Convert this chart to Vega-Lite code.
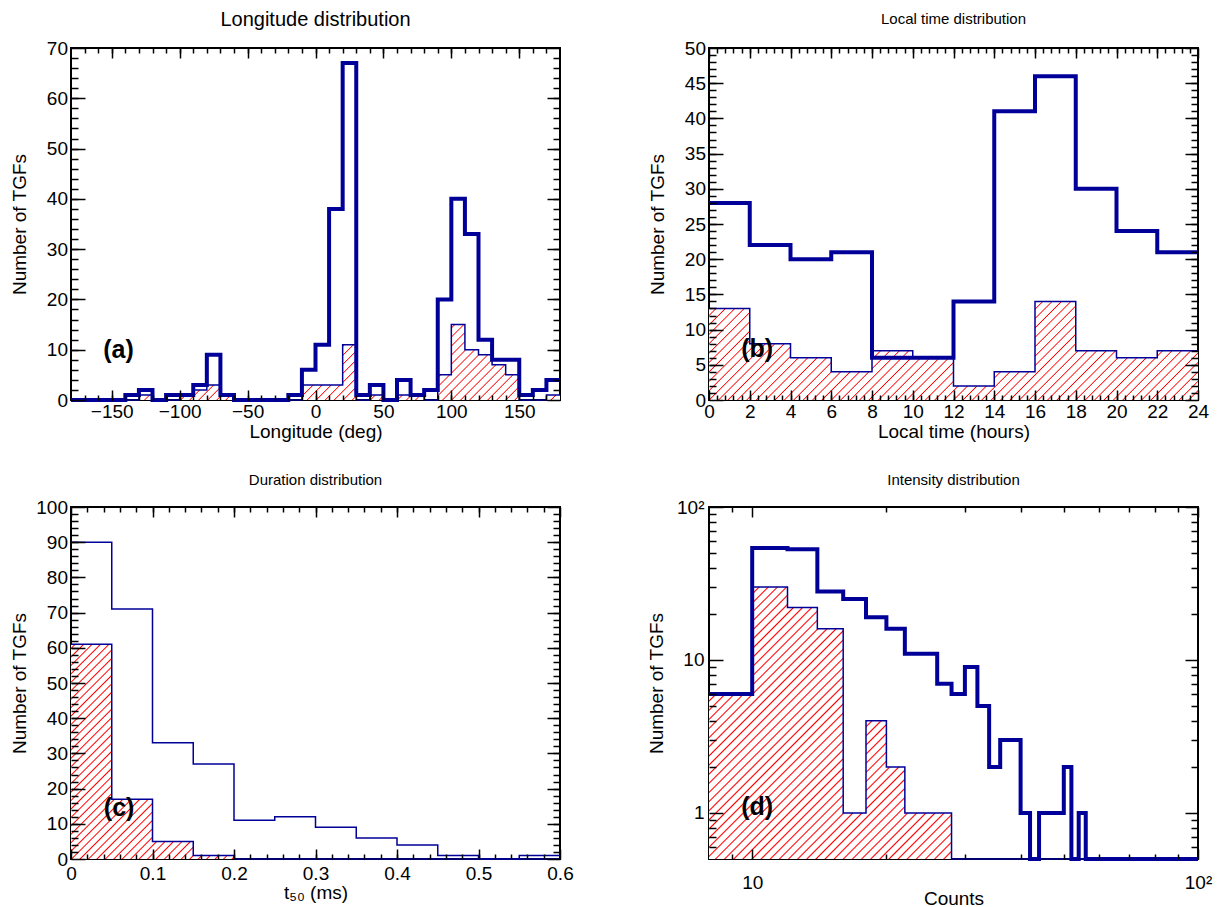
{
"$schema":"https://vega.github.io/schema/vega-lite/v6.json",
"background":"white",
"padding":{"left":9,"top":9,"right":0,"bottom":0},
"autosize":{"type":"pad"},
"columns":2,
"spacing":{"row":107,"column":149},
"bounds":"flush",
"config":{
 "view":{"stroke":"#000","strokeWidth":2},
 "axis":{"labelFont":"Liberation Sans","labelFontSize":19,"labelColor":"#000","titleFont":"Liberation Sans","titleFontSize":19,"titleFontWeight":"normal","titleColor":"#000","tickColor":"#000","tickWidth":1.5,"grid":false,"labelOverlap":false,"labelFlush":false,"labelBound":false},
 "title":{"font":"Liberation Sans","fontWeight":"normal","color":"#000","anchor":"middle","baseline":"alphabetic"},
 "line":{"strokeJoin":"miter","strokeCap":"butt"}
},
"concat":[
{"width":489,"height":352,
 "title":{"text":"Longitude distribution","fontSize":20,"offset":9},
 "data":{"values":[
{"lo":-180,"hi":-170,"all":0,"sub":0},{"lo":-170,"hi":-160,"all":0,"sub":0},{"lo":-160,"hi":-150,"all":0,"sub":0},{"lo":-150,"hi":-140,"all":0,"sub":0},{"lo":-140,"hi":-130,"all":1,"sub":0},{"lo":-130,"hi":-120,"all":2,"sub":1},{"lo":-120,"hi":-110,"all":0,"sub":0},{"lo":-110,"hi":-100,"all":1,"sub":0},{"lo":-100,"hi":-90,"all":1,"sub":1},{"lo":-90,"hi":-80,"all":3,"sub":2},{"lo":-80,"hi":-70,"all":9,"sub":3},{"lo":-70,"hi":-60,"all":1,"sub":1},{"lo":-60,"hi":-50,"all":0,"sub":0},{"lo":-50,"hi":-40,"all":0,"sub":0},{"lo":-40,"hi":-30,"all":0,"sub":0},{"lo":-30,"hi":-20,"all":0,"sub":0},{"lo":-20,"hi":-10,"all":1,"sub":0},{"lo":-10,"hi":0,"all":6,"sub":3},{"lo":0,"hi":10,"all":11,"sub":3},{"lo":10,"hi":20,"all":38,"sub":3},{"lo":20,"hi":30,"all":67,"sub":11},{"lo":30,"hi":40,"all":1,"sub":0},{"lo":40,"hi":50,"all":3,"sub":1},{"lo":50,"hi":60,"all":0,"sub":0},{"lo":60,"hi":70,"all":4,"sub":1},{"lo":70,"hi":80,"all":1,"sub":1},{"lo":80,"hi":90,"all":2,"sub":0},{"lo":90,"hi":100,"all":20,"sub":5},{"lo":100,"hi":110,"all":40,"sub":15},{"lo":110,"hi":120,"all":33,"sub":10},{"lo":120,"hi":130,"all":12,"sub":9},{"lo":130,"hi":140,"all":8,"sub":7},{"lo":140,"hi":150,"all":8,"sub":5},{"lo":150,"hi":160,"all":1,"sub":0},{"lo":160,"hi":170,"all":2,"sub":0},{"lo":170,"hi":180,"all":4,"sub":1}]},
 "layer":[
  {"transform":[{"fold":["lo","hi"],"as":["edge","x"]}],
   "mark":{"type":"area","stroke":null,"opacity":1,"fill":{"gradient":"linear","x1":0,"y1":0,"x2":1.1274,"y2":0.1739,"stops":[
{"offset":0.006,"color":"#fff"},{"offset":0.008,"color":"red"},{"offset":0.010,"color":"#fff"},
{"offset":0.022,"color":"#fff"},{"offset":0.024,"color":"red"},{"offset":0.026,"color":"#fff"},
{"offset":0.038,"color":"#fff"},{"offset":0.040,"color":"red"},{"offset":0.042,"color":"#fff"},
{"offset":0.054,"color":"#fff"},{"offset":0.056,"color":"red"},{"offset":0.058,"color":"#fff"},
{"offset":0.070,"color":"#fff"},{"offset":0.072,"color":"red"},{"offset":0.074,"color":"#fff"},
{"offset":0.086,"color":"#fff"},{"offset":0.088,"color":"red"},{"offset":0.090,"color":"#fff"},
{"offset":0.102,"color":"#fff"},{"offset":0.104,"color":"red"},{"offset":0.106,"color":"#fff"},
{"offset":0.118,"color":"#fff"},{"offset":0.120,"color":"red"},{"offset":0.122,"color":"#fff"},
{"offset":0.134,"color":"#fff"},{"offset":0.136,"color":"red"},{"offset":0.138,"color":"#fff"},
{"offset":0.150,"color":"#fff"},{"offset":0.152,"color":"red"},{"offset":0.154,"color":"#fff"},
{"offset":0.166,"color":"#fff"},{"offset":0.168,"color":"red"},{"offset":0.170,"color":"#fff"},
{"offset":0.182,"color":"#fff"},{"offset":0.184,"color":"red"},{"offset":0.186,"color":"#fff"},
{"offset":0.198,"color":"#fff"},{"offset":0.200,"color":"red"},{"offset":0.202,"color":"#fff"},
{"offset":0.214,"color":"#fff"},{"offset":0.216,"color":"red"},{"offset":0.218,"color":"#fff"},
{"offset":0.230,"color":"#fff"},{"offset":0.232,"color":"red"},{"offset":0.234,"color":"#fff"},
{"offset":0.246,"color":"#fff"},{"offset":0.248,"color":"red"},{"offset":0.250,"color":"#fff"},
{"offset":0.262,"color":"#fff"},{"offset":0.264,"color":"red"},{"offset":0.266,"color":"#fff"},
{"offset":0.278,"color":"#fff"},{"offset":0.280,"color":"red"},{"offset":0.282,"color":"#fff"},
{"offset":0.294,"color":"#fff"},{"offset":0.296,"color":"red"},{"offset":0.298,"color":"#fff"},
{"offset":0.310,"color":"#fff"},{"offset":0.312,"color":"red"},{"offset":0.314,"color":"#fff"},
{"offset":0.326,"color":"#fff"},{"offset":0.328,"color":"red"},{"offset":0.330,"color":"#fff"},
{"offset":0.342,"color":"#fff"},{"offset":0.344,"color":"red"},{"offset":0.346,"color":"#fff"},
{"offset":0.358,"color":"#fff"},{"offset":0.360,"color":"red"},{"offset":0.362,"color":"#fff"},
{"offset":0.374,"color":"#fff"},{"offset":0.376,"color":"red"},{"offset":0.378,"color":"#fff"},
{"offset":0.390,"color":"#fff"},{"offset":0.392,"color":"red"},{"offset":0.394,"color":"#fff"},
{"offset":0.406,"color":"#fff"},{"offset":0.408,"color":"red"},{"offset":0.410,"color":"#fff"},
{"offset":0.422,"color":"#fff"},{"offset":0.424,"color":"red"},{"offset":0.426,"color":"#fff"},
{"offset":0.438,"color":"#fff"},{"offset":0.440,"color":"red"},{"offset":0.442,"color":"#fff"},
{"offset":0.454,"color":"#fff"},{"offset":0.456,"color":"red"},{"offset":0.458,"color":"#fff"},
{"offset":0.470,"color":"#fff"},{"offset":0.472,"color":"red"},{"offset":0.474,"color":"#fff"},
{"offset":0.486,"color":"#fff"},{"offset":0.488,"color":"red"},{"offset":0.490,"color":"#fff"},
{"offset":0.502,"color":"#fff"},{"offset":0.504,"color":"red"},{"offset":0.506,"color":"#fff"},
{"offset":0.518,"color":"#fff"},{"offset":0.520,"color":"red"},{"offset":0.522,"color":"#fff"},
{"offset":0.534,"color":"#fff"},{"offset":0.536,"color":"red"},{"offset":0.538,"color":"#fff"},
{"offset":0.550,"color":"#fff"},{"offset":0.552,"color":"red"},{"offset":0.554,"color":"#fff"},
{"offset":0.566,"color":"#fff"},{"offset":0.568,"color":"red"},{"offset":0.570,"color":"#fff"},
{"offset":0.582,"color":"#fff"},{"offset":0.584,"color":"red"},{"offset":0.586,"color":"#fff"},
{"offset":0.598,"color":"#fff"},{"offset":0.600,"color":"red"},{"offset":0.602,"color":"#fff"},
{"offset":0.614,"color":"#fff"},{"offset":0.616,"color":"red"},{"offset":0.618,"color":"#fff"},
{"offset":0.630,"color":"#fff"},{"offset":0.632,"color":"red"},{"offset":0.634,"color":"#fff"},
{"offset":0.646,"color":"#fff"},{"offset":0.648,"color":"red"},{"offset":0.650,"color":"#fff"},
{"offset":0.662,"color":"#fff"},{"offset":0.664,"color":"red"},{"offset":0.666,"color":"#fff"},
{"offset":0.678,"color":"#fff"},{"offset":0.680,"color":"red"},{"offset":0.682,"color":"#fff"},
{"offset":0.694,"color":"#fff"},{"offset":0.696,"color":"red"},{"offset":0.698,"color":"#fff"},
{"offset":0.710,"color":"#fff"},{"offset":0.712,"color":"red"},{"offset":0.714,"color":"#fff"},
{"offset":0.726,"color":"#fff"},{"offset":0.728,"color":"red"},{"offset":0.730,"color":"#fff"},
{"offset":0.742,"color":"#fff"},{"offset":0.744,"color":"red"},{"offset":0.746,"color":"#fff"},
{"offset":0.758,"color":"#fff"},{"offset":0.760,"color":"red"},{"offset":0.762,"color":"#fff"},
{"offset":0.774,"color":"#fff"},{"offset":0.776,"color":"red"},{"offset":0.778,"color":"#fff"},
{"offset":0.790,"color":"#fff"},{"offset":0.792,"color":"red"},{"offset":0.794,"color":"#fff"},
{"offset":0.806,"color":"#fff"},{"offset":0.808,"color":"red"},{"offset":0.810,"color":"#fff"},
{"offset":0.822,"color":"#fff"},{"offset":0.824,"color":"red"},{"offset":0.826,"color":"#fff"},
{"offset":0.838,"color":"#fff"},{"offset":0.840,"color":"red"},{"offset":0.842,"color":"#fff"},
{"offset":0.854,"color":"#fff"},{"offset":0.856,"color":"red"},{"offset":0.858,"color":"#fff"},
{"offset":0.870,"color":"#fff"},{"offset":0.872,"color":"red"},{"offset":0.874,"color":"#fff"},
{"offset":0.886,"color":"#fff"},{"offset":0.888,"color":"red"},{"offset":0.890,"color":"#fff"},
{"offset":0.902,"color":"#fff"},{"offset":0.904,"color":"red"},{"offset":0.906,"color":"#fff"},
{"offset":0.918,"color":"#fff"},{"offset":0.920,"color":"red"},{"offset":0.922,"color":"#fff"},
{"offset":0.934,"color":"#fff"},{"offset":0.936,"color":"red"},{"offset":0.938,"color":"#fff"},
{"offset":0.950,"color":"#fff"},{"offset":0.952,"color":"red"},{"offset":0.954,"color":"#fff"},
{"offset":0.966,"color":"#fff"},{"offset":0.968,"color":"red"},{"offset":0.970,"color":"#fff"},
{"offset":0.982,"color":"#fff"},{"offset":0.984,"color":"red"},{"offset":0.986,"color":"#fff"}]}},
   "encoding":{
    "x":{"field":"x","type":"quantitative","scale":{"domain":[-180,180],"nice":false,"zero":false},"axis":{"orient":"bottom","zindex":1,"values":[-150,-100,-50,0,50,100,150],"format":"d","ticks":true,"tickSize":0,"tickOpacity":0,"domain":false,"labelPadding":2.5,"title":"Longitude (deg)","titlePadding":1}},
    "y":{"field":"sub","type":"quantitative","stack":null,"scale":{"domain":[0,70],"nice":false},"axis":{"orient":"left","zindex":1,"values":[0,10,20,30,40,50,60,70],"ticks":true,"tickSize":0,"tickOpacity":0,"domain":false,"labelPadding":3.5,"title":"Number of TGFs","titlePadding":17}},
    "y2":{"datum":0},
    "order":[{"field":"x","type":"quantitative"},{"field":"edge","type":"ordinal"}]}},
  {"transform":[{"fold":["lo","hi"],"as":["edge","x"]}],
   "mark":{"type":"line","color":"#000099","strokeWidth":1.5},
   "encoding":{
    "x":{"field":"x","type":"quantitative","scale":{"domain":[-180,180],"nice":false,"zero":false},"axis":{"orient":"bottom","zindex":1,"values":[-150,-100,-50,0,50,100,150],"offset":-10,"tickSize":10,"labels":false,"domain":false,"title":null}},
    "y":{"field":"sub","type":"quantitative","scale":{"domain":[0,70],"nice":false},"axis":{"orient":"left","zindex":1,"values":[0,10,20,30,40,50,60,70],"offset":-14,"tickSize":14,"labels":false,"domain":false,"title":null}},
    "order":[{"field":"x","type":"quantitative"},{"field":"edge","type":"ordinal"}]}},
  {"transform":[{"fold":["lo","hi"],"as":["edge","x"]}],
   "mark":{"type":"line","color":"#000099","strokeWidth":4},
   "encoding":{
    "x":{"field":"x","type":"quantitative","scale":{"domain":[-180,180],"nice":false,"zero":false},"axis":{"orient":"top","zindex":1,"values":[-150,-100,-50,0,50,100,150],"offset":-10,"tickSize":10,"labels":false,"domain":false,"title":null}},
    "y":{"field":"all","type":"quantitative","scale":{"domain":[0,70],"nice":false},"axis":{"orient":"right","zindex":1,"values":[0,10,20,30,40,50,60,70],"offset":-13,"tickSize":13,"labels":false,"domain":false,"title":null}},
    "order":[{"field":"x","type":"quantitative"},{"field":"edge","type":"ordinal"}]}},
  {"mark":{"type":"line","strokeOpacity":0},
   "encoding":{
    "x":{"field":"lo","type":"quantitative","scale":{"domain":[-180,180],"nice":false,"zero":false},"axis":{"orient":"bottom","zindex":1,"values":[-170,-160,-150,-140,-130,-120,-110,-100,-90,-80,-70,-60,-50,-40,-30,-20,-10,0,10,20,30,40,50,60,70,80,90,100,110,120,130,140,150,160,170],"offset":-5,"tickSize":5,"labels":false,"domain":false,"title":null}},
    "y":{"field":"all","type":"quantitative","scale":{"domain":[0,70],"nice":false},"axis":{"orient":"left","zindex":1,"values":[2,4,6,8,10,12,14,16,18,20,22,24,26,28,30,32,34,36,38,40,42,44,46,48,50,52,54,56,58,60,62,64,66,68],"offset":-7,"tickSize":7,"labels":false,"domain":false,"title":null}}}},
  {"data":{"values":[{}]},
   "mark":{"type":"text","text":"(a)","font":"Liberation Sans","fontSize":25,"fontWeight":"bold","color":"#000"},
   "encoding":{
    "x":{"datum":-145,"type":"quantitative","scale":{"domain":[-180,180],"nice":false,"zero":false},"axis":{"orient":"top","zindex":1,"values":[-170,-160,-150,-140,-130,-120,-110,-100,-90,-80,-70,-60,-50,-40,-30,-20,-10,0,10,20,30,40,50,60,70,80,90,100,110,120,130,140,150,160,170],"offset":-5,"tickSize":5,"labels":false,"domain":false,"title":null}},
    "y":{"datum":10,"type":"quantitative","scale":{"domain":[0,70],"nice":false},"axis":{"orient":"right","zindex":1,"values":[2,4,6,8,10,12,14,16,18,20,22,24,26,28,30,32,34,36,38,40,42,44,46,48,50,52,54,56,58,60,62,64,66,68],"offset":-7,"tickSize":7,"labels":false,"domain":false,"title":null}}}}
 ],
 "resolve":{"axis":{"x":"independent","y":"independent"}}
},
{"width":489,"height":352,
 "title":{"text":"Local time distribution","fontSize":15,"offset":12},
 "data":{"values":[
{"lo":0,"hi":2,"all":28,"sub":13},{"lo":2,"hi":4,"all":22,"sub":8},{"lo":4,"hi":6,"all":20,"sub":6},{"lo":6,"hi":8,"all":21,"sub":4},{"lo":8,"hi":10,"all":6,"sub":7},{"lo":10,"hi":12,"all":6,"sub":6},{"lo":12,"hi":14,"all":14,"sub":2},{"lo":14,"hi":16,"all":41,"sub":4},{"lo":16,"hi":18,"all":46,"sub":14},{"lo":18,"hi":20,"all":30,"sub":7},{"lo":20,"hi":22,"all":24,"sub":6},{"lo":22,"hi":24,"all":21,"sub":7}]},
 "layer":[
  {"transform":[{"fold":["lo","hi"],"as":["edge","x"]}],
   "mark":{"type":"area","stroke":null,"opacity":1,"fill":{"gradient":"linear","x1":0,"y1":0,"x2":1.1547,"y2":0.2327,"stops":[
{"offset":0.006,"color":"#fff"},{"offset":0.008,"color":"red"},{"offset":0.010,"color":"#fff"},
{"offset":0.022,"color":"#fff"},{"offset":0.024,"color":"red"},{"offset":0.026,"color":"#fff"},
{"offset":0.038,"color":"#fff"},{"offset":0.040,"color":"red"},{"offset":0.042,"color":"#fff"},
{"offset":0.054,"color":"#fff"},{"offset":0.056,"color":"red"},{"offset":0.058,"color":"#fff"},
{"offset":0.070,"color":"#fff"},{"offset":0.072,"color":"red"},{"offset":0.074,"color":"#fff"},
{"offset":0.086,"color":"#fff"},{"offset":0.088,"color":"red"},{"offset":0.090,"color":"#fff"},
{"offset":0.102,"color":"#fff"},{"offset":0.104,"color":"red"},{"offset":0.106,"color":"#fff"},
{"offset":0.118,"color":"#fff"},{"offset":0.120,"color":"red"},{"offset":0.122,"color":"#fff"},
{"offset":0.134,"color":"#fff"},{"offset":0.136,"color":"red"},{"offset":0.138,"color":"#fff"},
{"offset":0.150,"color":"#fff"},{"offset":0.152,"color":"red"},{"offset":0.154,"color":"#fff"},
{"offset":0.166,"color":"#fff"},{"offset":0.168,"color":"red"},{"offset":0.170,"color":"#fff"},
{"offset":0.182,"color":"#fff"},{"offset":0.184,"color":"red"},{"offset":0.186,"color":"#fff"},
{"offset":0.198,"color":"#fff"},{"offset":0.200,"color":"red"},{"offset":0.202,"color":"#fff"},
{"offset":0.214,"color":"#fff"},{"offset":0.216,"color":"red"},{"offset":0.218,"color":"#fff"},
{"offset":0.230,"color":"#fff"},{"offset":0.232,"color":"red"},{"offset":0.234,"color":"#fff"},
{"offset":0.246,"color":"#fff"},{"offset":0.248,"color":"red"},{"offset":0.250,"color":"#fff"},
{"offset":0.262,"color":"#fff"},{"offset":0.264,"color":"red"},{"offset":0.266,"color":"#fff"},
{"offset":0.278,"color":"#fff"},{"offset":0.280,"color":"red"},{"offset":0.282,"color":"#fff"},
{"offset":0.294,"color":"#fff"},{"offset":0.296,"color":"red"},{"offset":0.298,"color":"#fff"},
{"offset":0.310,"color":"#fff"},{"offset":0.312,"color":"red"},{"offset":0.314,"color":"#fff"},
{"offset":0.326,"color":"#fff"},{"offset":0.328,"color":"red"},{"offset":0.330,"color":"#fff"},
{"offset":0.342,"color":"#fff"},{"offset":0.344,"color":"red"},{"offset":0.346,"color":"#fff"},
{"offset":0.358,"color":"#fff"},{"offset":0.360,"color":"red"},{"offset":0.362,"color":"#fff"},
{"offset":0.374,"color":"#fff"},{"offset":0.376,"color":"red"},{"offset":0.378,"color":"#fff"},
{"offset":0.390,"color":"#fff"},{"offset":0.392,"color":"red"},{"offset":0.394,"color":"#fff"},
{"offset":0.406,"color":"#fff"},{"offset":0.408,"color":"red"},{"offset":0.410,"color":"#fff"},
{"offset":0.422,"color":"#fff"},{"offset":0.424,"color":"red"},{"offset":0.426,"color":"#fff"},
{"offset":0.438,"color":"#fff"},{"offset":0.440,"color":"red"},{"offset":0.442,"color":"#fff"},
{"offset":0.454,"color":"#fff"},{"offset":0.456,"color":"red"},{"offset":0.458,"color":"#fff"},
{"offset":0.470,"color":"#fff"},{"offset":0.472,"color":"red"},{"offset":0.474,"color":"#fff"},
{"offset":0.486,"color":"#fff"},{"offset":0.488,"color":"red"},{"offset":0.490,"color":"#fff"},
{"offset":0.502,"color":"#fff"},{"offset":0.504,"color":"red"},{"offset":0.506,"color":"#fff"},
{"offset":0.518,"color":"#fff"},{"offset":0.520,"color":"red"},{"offset":0.522,"color":"#fff"},
{"offset":0.534,"color":"#fff"},{"offset":0.536,"color":"red"},{"offset":0.538,"color":"#fff"},
{"offset":0.550,"color":"#fff"},{"offset":0.552,"color":"red"},{"offset":0.554,"color":"#fff"},
{"offset":0.566,"color":"#fff"},{"offset":0.568,"color":"red"},{"offset":0.570,"color":"#fff"},
{"offset":0.582,"color":"#fff"},{"offset":0.584,"color":"red"},{"offset":0.586,"color":"#fff"},
{"offset":0.598,"color":"#fff"},{"offset":0.600,"color":"red"},{"offset":0.602,"color":"#fff"},
{"offset":0.614,"color":"#fff"},{"offset":0.616,"color":"red"},{"offset":0.618,"color":"#fff"},
{"offset":0.630,"color":"#fff"},{"offset":0.632,"color":"red"},{"offset":0.634,"color":"#fff"},
{"offset":0.646,"color":"#fff"},{"offset":0.648,"color":"red"},{"offset":0.650,"color":"#fff"},
{"offset":0.662,"color":"#fff"},{"offset":0.664,"color":"red"},{"offset":0.666,"color":"#fff"},
{"offset":0.678,"color":"#fff"},{"offset":0.680,"color":"red"},{"offset":0.682,"color":"#fff"},
{"offset":0.694,"color":"#fff"},{"offset":0.696,"color":"red"},{"offset":0.698,"color":"#fff"},
{"offset":0.710,"color":"#fff"},{"offset":0.712,"color":"red"},{"offset":0.714,"color":"#fff"},
{"offset":0.726,"color":"#fff"},{"offset":0.728,"color":"red"},{"offset":0.730,"color":"#fff"},
{"offset":0.742,"color":"#fff"},{"offset":0.744,"color":"red"},{"offset":0.746,"color":"#fff"},
{"offset":0.758,"color":"#fff"},{"offset":0.760,"color":"red"},{"offset":0.762,"color":"#fff"},
{"offset":0.774,"color":"#fff"},{"offset":0.776,"color":"red"},{"offset":0.778,"color":"#fff"},
{"offset":0.790,"color":"#fff"},{"offset":0.792,"color":"red"},{"offset":0.794,"color":"#fff"},
{"offset":0.806,"color":"#fff"},{"offset":0.808,"color":"red"},{"offset":0.810,"color":"#fff"},
{"offset":0.822,"color":"#fff"},{"offset":0.824,"color":"red"},{"offset":0.826,"color":"#fff"},
{"offset":0.838,"color":"#fff"},{"offset":0.840,"color":"red"},{"offset":0.842,"color":"#fff"},
{"offset":0.854,"color":"#fff"},{"offset":0.856,"color":"red"},{"offset":0.858,"color":"#fff"},
{"offset":0.870,"color":"#fff"},{"offset":0.872,"color":"red"},{"offset":0.874,"color":"#fff"},
{"offset":0.886,"color":"#fff"},{"offset":0.888,"color":"red"},{"offset":0.890,"color":"#fff"},
{"offset":0.902,"color":"#fff"},{"offset":0.904,"color":"red"},{"offset":0.906,"color":"#fff"},
{"offset":0.918,"color":"#fff"},{"offset":0.920,"color":"red"},{"offset":0.922,"color":"#fff"},
{"offset":0.934,"color":"#fff"},{"offset":0.936,"color":"red"},{"offset":0.938,"color":"#fff"},
{"offset":0.950,"color":"#fff"},{"offset":0.952,"color":"red"},{"offset":0.954,"color":"#fff"},
{"offset":0.966,"color":"#fff"},{"offset":0.968,"color":"red"},{"offset":0.970,"color":"#fff"},
{"offset":0.982,"color":"#fff"},{"offset":0.984,"color":"red"},{"offset":0.986,"color":"#fff"}]}},
   "encoding":{
    "x":{"field":"x","type":"quantitative","scale":{"domain":[0,24],"nice":false,"zero":false},"axis":{"orient":"bottom","zindex":1,"values":[0,2,4,6,8,10,12,14,16,18,20,22,24],"ticks":true,"tickSize":0,"tickOpacity":0,"domain":false,"labelPadding":2.5,"title":"Local time (hours)","titlePadding":1}},
    "y":{"field":"sub","type":"quantitative","stack":null,"scale":{"domain":[0,50],"nice":false},"axis":{"orient":"left","zindex":1,"values":[0,5,10,15,20,25,30,35,40,45,50],"ticks":true,"tickSize":0,"tickOpacity":0,"domain":false,"labelPadding":3.5,"title":"Number of TGFs","titlePadding":17}},
    "y2":{"datum":0},
    "order":[{"field":"x","type":"quantitative"},{"field":"edge","type":"ordinal"}]}},
  {"transform":[{"fold":["lo","hi"],"as":["edge","x"]}],
   "mark":{"type":"line","color":"#000099","strokeWidth":1.5},
   "encoding":{
    "x":{"field":"x","type":"quantitative","scale":{"domain":[0,24],"nice":false,"zero":false},"axis":{"orient":"bottom","zindex":1,"values":[0,2,4,6,8,10,12,14,16,18,20,22,24],"offset":-10,"tickSize":10,"labels":false,"domain":false,"title":null}},
    "y":{"field":"sub","type":"quantitative","scale":{"domain":[0,50],"nice":false},"axis":{"orient":"left","zindex":1,"values":[0,5,10,15,20,25,30,35,40,45,50],"offset":-14,"tickSize":14,"labels":false,"domain":false,"title":null}},
    "order":[{"field":"x","type":"quantitative"},{"field":"edge","type":"ordinal"}]}},
  {"transform":[{"fold":["lo","hi"],"as":["edge","x"]}],
   "mark":{"type":"line","color":"#000099","strokeWidth":4},
   "encoding":{
    "x":{"field":"x","type":"quantitative","scale":{"domain":[0,24],"nice":false,"zero":false},"axis":{"orient":"top","zindex":1,"values":[0,2,4,6,8,10,12,14,16,18,20,22,24],"offset":-10,"tickSize":10,"labels":false,"domain":false,"title":null}},
    "y":{"field":"all","type":"quantitative","scale":{"domain":[0,50],"nice":false},"axis":{"orient":"right","zindex":1,"values":[0,5,10,15,20,25,30,35,40,45,50],"offset":-13,"tickSize":13,"labels":false,"domain":false,"title":null}},
    "order":[{"field":"x","type":"quantitative"},{"field":"edge","type":"ordinal"}]}},
  {"mark":{"type":"line","strokeOpacity":0},
   "encoding":{
    "x":{"field":"lo","type":"quantitative","scale":{"domain":[0,24],"nice":false,"zero":false},"axis":{"orient":"bottom","zindex":1,"values":[0.4,0.8,1.2,1.6,2,2.4,2.8,3.2,3.6,4,4.4,4.8,5.2,5.6,6,6.4,6.8,7.2,7.6,8,8.4,8.8,9.2,9.6,10,10.4,10.8,11.2,11.6,12,12.4,12.8,13.2,13.6,14,14.4,14.8,15.2,15.6,16,16.4,16.8,17.2,17.6,18,18.4,18.8,19.2,19.6,20,20.4,20.8,21.2,21.6,22,22.4,22.8,23.2,23.6],"offset":-5,"tickSize":5,"labels":false,"domain":false,"title":null}},
    "y":{"field":"all","type":"quantitative","scale":{"domain":[0,50],"nice":false},"axis":{"orient":"left","zindex":1,"values":[1,2,3,4,5,6,7,8,9,10,11,12,13,14,15,16,17,18,19,20,21,22,23,24,25,26,27,28,29,30,31,32,33,34,35,36,37,38,39,40,41,42,43,44,45,46,47,48,49],"offset":-7,"tickSize":7,"labels":false,"domain":false,"title":null}}}},
  {"data":{"values":[{}]},
   "mark":{"type":"text","text":"(b)","font":"Liberation Sans","fontSize":25,"fontWeight":"bold","color":"#000"},
   "encoding":{
    "x":{"datum":2.36,"type":"quantitative","scale":{"domain":[0,24],"nice":false,"zero":false},"axis":{"orient":"top","zindex":1,"values":[0.4,0.8,1.2,1.6,2,2.4,2.8,3.2,3.6,4,4.4,4.8,5.2,5.6,6,6.4,6.8,7.2,7.6,8,8.4,8.8,9.2,9.6,10,10.4,10.8,11.2,11.6,12,12.4,12.8,13.2,13.6,14,14.4,14.8,15.2,15.6,16,16.4,16.8,17.2,17.6,18,18.4,18.8,19.2,19.6,20,20.4,20.8,21.2,21.6,22,22.4,22.8,23.2,23.6],"offset":-5,"tickSize":5,"labels":false,"domain":false,"title":null}},
    "y":{"datum":7.2,"type":"quantitative","scale":{"domain":[0,50],"nice":false},"axis":{"orient":"right","zindex":1,"values":[1,2,3,4,5,6,7,8,9,10,11,12,13,14,15,16,17,18,19,20,21,22,23,24,25,26,27,28,29,30,31,32,33,34,35,36,37,38,39,40,41,42,43,44,45,46,47,48,49],"offset":-7,"tickSize":7,"labels":false,"domain":false,"title":null}}}}
 ],
 "resolve":{"axis":{"x":"independent","y":"independent"}}
},
{"width":489,"height":352,
 "title":{"text":"Duration distribution","fontSize":15,"offset":10},
 "data":{"values":[
{"lo":0,"hi":0.05,"all":90,"sub":61},{"lo":0.05,"hi":0.1,"all":71,"sub":17},{"lo":0.1,"hi":0.15,"all":33,"sub":5},{"lo":0.15,"hi":0.2,"all":27,"sub":1},{"lo":0.2,"hi":0.25,"all":11,"sub":0},{"lo":0.25,"hi":0.3,"all":12,"sub":0},{"lo":0.3,"hi":0.35,"all":9,"sub":0},{"lo":0.35,"hi":0.4,"all":6,"sub":0},{"lo":0.4,"hi":0.45,"all":4,"sub":0},{"lo":0.45,"hi":0.5,"all":1,"sub":0},{"lo":0.5,"hi":0.55,"all":0,"sub":0},{"lo":0.55,"hi":0.6,"all":1,"sub":0}]},
 "layer":[
  {"transform":[{"fold":["lo","hi"],"as":["edge","x"]}],
   "mark":{"type":"area","stroke":null,"opacity":1,"fill":{"gradient":"linear","x1":0,"y1":0,"x2":1.2065,"y2":0.5298,"stops":[
{"offset":0.004,"color":"#fff"},{"offset":0.006,"color":"red"},{"offset":0.008,"color":"#fff"},
{"offset":0.016,"color":"#fff"},{"offset":0.018,"color":"red"},{"offset":0.020,"color":"#fff"},
{"offset":0.028,"color":"#fff"},{"offset":0.030,"color":"red"},{"offset":0.032,"color":"#fff"},
{"offset":0.040,"color":"#fff"},{"offset":0.042,"color":"red"},{"offset":0.044,"color":"#fff"},
{"offset":0.052,"color":"#fff"},{"offset":0.054,"color":"red"},{"offset":0.056,"color":"#fff"},
{"offset":0.064,"color":"#fff"},{"offset":0.066,"color":"red"},{"offset":0.068,"color":"#fff"},
{"offset":0.076,"color":"#fff"},{"offset":0.078,"color":"red"},{"offset":0.080,"color":"#fff"},
{"offset":0.088,"color":"#fff"},{"offset":0.090,"color":"red"},{"offset":0.092,"color":"#fff"},
{"offset":0.100,"color":"#fff"},{"offset":0.102,"color":"red"},{"offset":0.104,"color":"#fff"},
{"offset":0.112,"color":"#fff"},{"offset":0.114,"color":"red"},{"offset":0.116,"color":"#fff"},
{"offset":0.124,"color":"#fff"},{"offset":0.126,"color":"red"},{"offset":0.128,"color":"#fff"},
{"offset":0.136,"color":"#fff"},{"offset":0.138,"color":"red"},{"offset":0.140,"color":"#fff"},
{"offset":0.148,"color":"#fff"},{"offset":0.150,"color":"red"},{"offset":0.152,"color":"#fff"},
{"offset":0.160,"color":"#fff"},{"offset":0.162,"color":"red"},{"offset":0.164,"color":"#fff"},
{"offset":0.172,"color":"#fff"},{"offset":0.174,"color":"red"},{"offset":0.176,"color":"#fff"},
{"offset":0.184,"color":"#fff"},{"offset":0.186,"color":"red"},{"offset":0.188,"color":"#fff"},
{"offset":0.196,"color":"#fff"},{"offset":0.198,"color":"red"},{"offset":0.200,"color":"#fff"},
{"offset":0.208,"color":"#fff"},{"offset":0.210,"color":"red"},{"offset":0.212,"color":"#fff"},
{"offset":0.220,"color":"#fff"},{"offset":0.222,"color":"red"},{"offset":0.224,"color":"#fff"},
{"offset":0.232,"color":"#fff"},{"offset":0.234,"color":"red"},{"offset":0.236,"color":"#fff"},
{"offset":0.244,"color":"#fff"},{"offset":0.246,"color":"red"},{"offset":0.248,"color":"#fff"},
{"offset":0.256,"color":"#fff"},{"offset":0.258,"color":"red"},{"offset":0.260,"color":"#fff"},
{"offset":0.268,"color":"#fff"},{"offset":0.270,"color":"red"},{"offset":0.272,"color":"#fff"},
{"offset":0.280,"color":"#fff"},{"offset":0.282,"color":"red"},{"offset":0.284,"color":"#fff"},
{"offset":0.292,"color":"#fff"},{"offset":0.294,"color":"red"},{"offset":0.296,"color":"#fff"},
{"offset":0.304,"color":"#fff"},{"offset":0.306,"color":"red"},{"offset":0.308,"color":"#fff"},
{"offset":0.316,"color":"#fff"},{"offset":0.318,"color":"red"},{"offset":0.320,"color":"#fff"},
{"offset":0.328,"color":"#fff"},{"offset":0.330,"color":"red"},{"offset":0.332,"color":"#fff"},
{"offset":0.340,"color":"#fff"},{"offset":0.342,"color":"red"},{"offset":0.344,"color":"#fff"},
{"offset":0.352,"color":"#fff"},{"offset":0.354,"color":"red"},{"offset":0.356,"color":"#fff"},
{"offset":0.364,"color":"#fff"},{"offset":0.366,"color":"red"},{"offset":0.368,"color":"#fff"},
{"offset":0.376,"color":"#fff"},{"offset":0.378,"color":"red"},{"offset":0.380,"color":"#fff"},
{"offset":0.388,"color":"#fff"},{"offset":0.390,"color":"red"},{"offset":0.392,"color":"#fff"},
{"offset":0.400,"color":"#fff"},{"offset":0.402,"color":"red"},{"offset":0.404,"color":"#fff"},
{"offset":0.412,"color":"#fff"},{"offset":0.414,"color":"red"},{"offset":0.416,"color":"#fff"},
{"offset":0.424,"color":"#fff"},{"offset":0.426,"color":"red"},{"offset":0.428,"color":"#fff"},
{"offset":0.436,"color":"#fff"},{"offset":0.438,"color":"red"},{"offset":0.440,"color":"#fff"},
{"offset":0.448,"color":"#fff"},{"offset":0.450,"color":"red"},{"offset":0.452,"color":"#fff"},
{"offset":0.460,"color":"#fff"},{"offset":0.462,"color":"red"},{"offset":0.464,"color":"#fff"},
{"offset":0.472,"color":"#fff"},{"offset":0.474,"color":"red"},{"offset":0.476,"color":"#fff"},
{"offset":0.484,"color":"#fff"},{"offset":0.486,"color":"red"},{"offset":0.488,"color":"#fff"},
{"offset":0.496,"color":"#fff"},{"offset":0.498,"color":"red"},{"offset":0.500,"color":"#fff"},
{"offset":0.508,"color":"#fff"},{"offset":0.510,"color":"red"},{"offset":0.512,"color":"#fff"},
{"offset":0.520,"color":"#fff"},{"offset":0.522,"color":"red"},{"offset":0.524,"color":"#fff"},
{"offset":0.532,"color":"#fff"},{"offset":0.534,"color":"red"},{"offset":0.536,"color":"#fff"},
{"offset":0.544,"color":"#fff"},{"offset":0.546,"color":"red"},{"offset":0.548,"color":"#fff"},
{"offset":0.556,"color":"#fff"},{"offset":0.558,"color":"red"},{"offset":0.560,"color":"#fff"},
{"offset":0.568,"color":"#fff"},{"offset":0.570,"color":"red"},{"offset":0.572,"color":"#fff"},
{"offset":0.580,"color":"#fff"},{"offset":0.582,"color":"red"},{"offset":0.584,"color":"#fff"},
{"offset":0.592,"color":"#fff"},{"offset":0.594,"color":"red"},{"offset":0.596,"color":"#fff"},
{"offset":0.604,"color":"#fff"},{"offset":0.606,"color":"red"},{"offset":0.608,"color":"#fff"},
{"offset":0.616,"color":"#fff"},{"offset":0.618,"color":"red"},{"offset":0.620,"color":"#fff"},
{"offset":0.628,"color":"#fff"},{"offset":0.630,"color":"red"},{"offset":0.632,"color":"#fff"},
{"offset":0.640,"color":"#fff"},{"offset":0.642,"color":"red"},{"offset":0.644,"color":"#fff"},
{"offset":0.652,"color":"#fff"},{"offset":0.654,"color":"red"},{"offset":0.656,"color":"#fff"},
{"offset":0.664,"color":"#fff"},{"offset":0.666,"color":"red"},{"offset":0.668,"color":"#fff"},
{"offset":0.676,"color":"#fff"},{"offset":0.678,"color":"red"},{"offset":0.680,"color":"#fff"},
{"offset":0.688,"color":"#fff"},{"offset":0.690,"color":"red"},{"offset":0.692,"color":"#fff"},
{"offset":0.700,"color":"#fff"},{"offset":0.702,"color":"red"},{"offset":0.704,"color":"#fff"},
{"offset":0.712,"color":"#fff"},{"offset":0.714,"color":"red"},{"offset":0.716,"color":"#fff"},
{"offset":0.724,"color":"#fff"},{"offset":0.726,"color":"red"},{"offset":0.728,"color":"#fff"},
{"offset":0.736,"color":"#fff"},{"offset":0.738,"color":"red"},{"offset":0.740,"color":"#fff"},
{"offset":0.748,"color":"#fff"},{"offset":0.750,"color":"red"},{"offset":0.752,"color":"#fff"},
{"offset":0.760,"color":"#fff"},{"offset":0.762,"color":"red"},{"offset":0.764,"color":"#fff"},
{"offset":0.772,"color":"#fff"},{"offset":0.774,"color":"red"},{"offset":0.776,"color":"#fff"},
{"offset":0.784,"color":"#fff"},{"offset":0.786,"color":"red"},{"offset":0.788,"color":"#fff"},
{"offset":0.796,"color":"#fff"},{"offset":0.798,"color":"red"},{"offset":0.800,"color":"#fff"},
{"offset":0.808,"color":"#fff"},{"offset":0.810,"color":"red"},{"offset":0.812,"color":"#fff"},
{"offset":0.820,"color":"#fff"},{"offset":0.822,"color":"red"},{"offset":0.824,"color":"#fff"},
{"offset":0.832,"color":"#fff"},{"offset":0.834,"color":"red"},{"offset":0.836,"color":"#fff"},
{"offset":0.844,"color":"#fff"},{"offset":0.846,"color":"red"},{"offset":0.848,"color":"#fff"},
{"offset":0.856,"color":"#fff"},{"offset":0.858,"color":"red"},{"offset":0.860,"color":"#fff"},
{"offset":0.868,"color":"#fff"},{"offset":0.870,"color":"red"},{"offset":0.872,"color":"#fff"},
{"offset":0.880,"color":"#fff"},{"offset":0.882,"color":"red"},{"offset":0.884,"color":"#fff"},
{"offset":0.892,"color":"#fff"},{"offset":0.894,"color":"red"},{"offset":0.896,"color":"#fff"},
{"offset":0.904,"color":"#fff"},{"offset":0.906,"color":"red"},{"offset":0.908,"color":"#fff"},
{"offset":0.916,"color":"#fff"},{"offset":0.918,"color":"red"},{"offset":0.920,"color":"#fff"},
{"offset":0.928,"color":"#fff"},{"offset":0.930,"color":"red"},{"offset":0.932,"color":"#fff"},
{"offset":0.940,"color":"#fff"},{"offset":0.942,"color":"red"},{"offset":0.944,"color":"#fff"},
{"offset":0.952,"color":"#fff"},{"offset":0.954,"color":"red"},{"offset":0.956,"color":"#fff"},
{"offset":0.964,"color":"#fff"},{"offset":0.966,"color":"red"},{"offset":0.968,"color":"#fff"},
{"offset":0.976,"color":"#fff"},{"offset":0.978,"color":"red"},{"offset":0.980,"color":"#fff"},
{"offset":0.988,"color":"#fff"},{"offset":0.990,"color":"red"},{"offset":0.992,"color":"#fff"}]}},
   "encoding":{
    "x":{"field":"x","type":"quantitative","scale":{"domain":[0,0.6],"nice":false,"zero":false},"axis":{"orient":"bottom","zindex":1,"values":[0,0.1,0.2,0.3,0.4,0.5,0.6],"labelExpr":"datum.value == 0 ? '0' : format(datum.value, '.1f')","ticks":true,"tickSize":0,"tickOpacity":0,"domain":false,"labelPadding":5,"title":"t₅₀ (ms)","titlePadding":0.5}},
    "y":{"field":"sub","type":"quantitative","stack":null,"scale":{"domain":[0,100],"nice":false},"axis":{"orient":"left","zindex":1,"values":[0,10,20,30,40,50,60,70,80,90,100],"ticks":true,"tickSize":0,"tickOpacity":0,"domain":false,"labelPadding":3.5,"title":"Number of TGFs","titlePadding":6}},
    "y2":{"datum":0},
    "order":[{"field":"x","type":"quantitative"},{"field":"edge","type":"ordinal"}]}},
  {"transform":[{"fold":["lo","hi"],"as":["edge","x"]}],
   "mark":{"type":"line","color":"#000099","strokeWidth":1.5},
   "encoding":{
    "x":{"field":"x","type":"quantitative","scale":{"domain":[0,0.6],"nice":false,"zero":false},"axis":{"orient":"bottom","zindex":1,"values":[0,0.1,0.2,0.3,0.4,0.5,0.6],"offset":-10,"tickSize":10,"labels":false,"domain":false,"title":null}},
    "y":{"field":"sub","type":"quantitative","scale":{"domain":[0,100],"nice":false},"axis":{"orient":"left","zindex":1,"values":[0,10,20,30,40,50,60,70,80,90,100],"offset":-14,"tickSize":14,"labels":false,"domain":false,"title":null}},
    "order":[{"field":"x","type":"quantitative"},{"field":"edge","type":"ordinal"}]}},
  {"transform":[{"fold":["lo","hi"],"as":["edge","x"]}],
   "mark":{"type":"line","color":"#000099","strokeWidth":1.5},
   "encoding":{
    "x":{"field":"x","type":"quantitative","scale":{"domain":[0,0.6],"nice":false,"zero":false},"axis":{"orient":"top","zindex":1,"values":[0,0.1,0.2,0.3,0.4,0.5,0.6],"offset":-10,"tickSize":10,"labels":false,"domain":false,"title":null}},
    "y":{"field":"all","type":"quantitative","scale":{"domain":[0,100],"nice":false},"axis":{"orient":"right","zindex":1,"values":[0,10,20,30,40,50,60,70,80,90,100],"offset":-13,"tickSize":13,"labels":false,"domain":false,"title":null}},
    "order":[{"field":"x","type":"quantitative"},{"field":"edge","type":"ordinal"}]}},
  {"mark":{"type":"line","strokeOpacity":0},
   "encoding":{
    "x":{"field":"lo","type":"quantitative","scale":{"domain":[0,0.6],"nice":false,"zero":false},"axis":{"orient":"bottom","zindex":1,"values":[0.02,0.04,0.06,0.08,0.1,0.12,0.14,0.16,0.18,0.2,0.22,0.24,0.26,0.28,0.3,0.32,0.34,0.36,0.38,0.4,0.42,0.44,0.46,0.48,0.5,0.52,0.54,0.56,0.58],"offset":-5,"tickSize":5,"labels":false,"domain":false,"title":null}},
    "y":{"field":"all","type":"quantitative","scale":{"domain":[0,100],"nice":false},"axis":{"orient":"left","zindex":1,"values":[2,4,6,8,10,12,14,16,18,20,22,24,26,28,30,32,34,36,38,40,42,44,46,48,50,52,54,56,58,60,62,64,66,68,70,72,74,76,78,80,82,84,86,88,90,92,94,96,98],"offset":-7,"tickSize":7,"labels":false,"domain":false,"title":null}}}},
  {"data":{"values":[{}]},
   "mark":{"type":"text","text":"(c)","font":"Liberation Sans","fontSize":25,"fontWeight":"bold","color":"#000"},
   "encoding":{
    "x":{"datum":0.059,"type":"quantitative","scale":{"domain":[0,0.6],"nice":false,"zero":false},"axis":{"orient":"top","zindex":1,"values":[0.02,0.04,0.06,0.08,0.1,0.12,0.14,0.16,0.18,0.2,0.22,0.24,0.26,0.28,0.3,0.32,0.34,0.36,0.38,0.4,0.42,0.44,0.46,0.48,0.5,0.52,0.54,0.56,0.58],"offset":-5,"tickSize":5,"labels":false,"domain":false,"title":null}},
    "y":{"datum":14.4,"type":"quantitative","scale":{"domain":[0,100],"nice":false},"axis":{"orient":"right","zindex":1,"values":[2,4,6,8,10,12,14,16,18,20,22,24,26,28,30,32,34,36,38,40,42,44,46,48,50,52,54,56,58,60,62,64,66,68,70,72,74,76,78,80,82,84,86,88,90,92,94,96,98],"offset":-7,"tickSize":7,"labels":false,"domain":false,"title":null}}}}
 ],
 "resolve":{"axis":{"x":"independent","y":"independent"}}
},
{"width":489,"height":352,
 "title":{"text":"Intensity distribution","fontSize":15,"offset":10},
 "data":{"values":[
{"lo":8,"hi":10,"all":6,"sub":6},{"lo":10,"hi":12,"all":54,"sub":30},{"lo":12,"hi":14,"all":53,"sub":22},{"lo":14,"hi":16,"all":28,"sub":16},{"lo":16,"hi":18,"all":25,"sub":1},{"lo":18,"hi":20,"all":19,"sub":4},{"lo":20,"hi":22,"all":16,"sub":2},{"lo":22,"hi":24,"all":11,"sub":1},{"lo":24,"hi":26,"all":11,"sub":1},{"lo":26,"hi":28,"all":7,"sub":1},{"lo":28,"hi":30,"all":6,"sub":0},{"lo":30,"hi":32,"all":9,"sub":0},{"lo":32,"hi":34,"all":5,"sub":0},{"lo":34,"hi":36,"all":2,"sub":0},{"lo":36,"hi":38,"all":3,"sub":0},{"lo":38,"hi":40,"all":3,"sub":0},{"lo":40,"hi":42,"all":1,"sub":0},{"lo":42,"hi":44,"all":0,"sub":0},{"lo":44,"hi":46,"all":1,"sub":0},{"lo":46,"hi":48,"all":1,"sub":0},{"lo":48,"hi":50,"all":1,"sub":0},{"lo":50,"hi":52,"all":2,"sub":0},{"lo":52,"hi":54,"all":0,"sub":0},{"lo":54,"hi":56,"all":1,"sub":0},{"lo":56,"hi":58,"all":0,"sub":0},{"lo":58,"hi":60,"all":0,"sub":0},{"lo":60,"hi":62,"all":0,"sub":0},{"lo":62,"hi":64,"all":0,"sub":0},{"lo":64,"hi":66,"all":0,"sub":0},{"lo":66,"hi":68,"all":0,"sub":0},{"lo":68,"hi":70,"all":0,"sub":0},{"lo":70,"hi":72,"all":0,"sub":0},{"lo":72,"hi":74,"all":0,"sub":0},{"lo":74,"hi":76,"all":0,"sub":0},{"lo":76,"hi":78,"all":0,"sub":0},{"lo":78,"hi":80,"all":0,"sub":0},{"lo":80,"hi":82,"all":0,"sub":0},{"lo":82,"hi":84,"all":0,"sub":0},{"lo":84,"hi":86,"all":0,"sub":0},{"lo":86,"hi":88,"all":0,"sub":0},{"lo":88,"hi":90,"all":0,"sub":0},{"lo":90,"hi":92,"all":0,"sub":0},{"lo":92,"hi":94,"all":0,"sub":0},{"lo":94,"hi":96,"all":0,"sub":0},{"lo":96,"hi":98,"all":0,"sub":0},{"lo":98,"hi":100,"all":0,"sub":0}]},
 "layer":[
  {"transform":[{"fold":["lo","hi"],"as":["edge","x"]}],
   "mark":{"type":"area","stroke":null,"opacity":1,"fill":{"gradient":"linear","x1":0,"y1":0,"x2":1.1885,"y2":0.6611,"stops":[
{"offset":0.004,"color":"#fff"},{"offset":0.006,"color":"red"},{"offset":0.008,"color":"#fff"},
{"offset":0.016,"color":"#fff"},{"offset":0.018,"color":"red"},{"offset":0.020,"color":"#fff"},
{"offset":0.028,"color":"#fff"},{"offset":0.030,"color":"red"},{"offset":0.032,"color":"#fff"},
{"offset":0.040,"color":"#fff"},{"offset":0.042,"color":"red"},{"offset":0.044,"color":"#fff"},
{"offset":0.052,"color":"#fff"},{"offset":0.054,"color":"red"},{"offset":0.056,"color":"#fff"},
{"offset":0.064,"color":"#fff"},{"offset":0.066,"color":"red"},{"offset":0.068,"color":"#fff"},
{"offset":0.076,"color":"#fff"},{"offset":0.078,"color":"red"},{"offset":0.080,"color":"#fff"},
{"offset":0.088,"color":"#fff"},{"offset":0.090,"color":"red"},{"offset":0.092,"color":"#fff"},
{"offset":0.100,"color":"#fff"},{"offset":0.102,"color":"red"},{"offset":0.104,"color":"#fff"},
{"offset":0.112,"color":"#fff"},{"offset":0.114,"color":"red"},{"offset":0.116,"color":"#fff"},
{"offset":0.124,"color":"#fff"},{"offset":0.126,"color":"red"},{"offset":0.128,"color":"#fff"},
{"offset":0.136,"color":"#fff"},{"offset":0.138,"color":"red"},{"offset":0.140,"color":"#fff"},
{"offset":0.148,"color":"#fff"},{"offset":0.150,"color":"red"},{"offset":0.152,"color":"#fff"},
{"offset":0.160,"color":"#fff"},{"offset":0.162,"color":"red"},{"offset":0.164,"color":"#fff"},
{"offset":0.172,"color":"#fff"},{"offset":0.174,"color":"red"},{"offset":0.176,"color":"#fff"},
{"offset":0.184,"color":"#fff"},{"offset":0.186,"color":"red"},{"offset":0.188,"color":"#fff"},
{"offset":0.196,"color":"#fff"},{"offset":0.198,"color":"red"},{"offset":0.200,"color":"#fff"},
{"offset":0.208,"color":"#fff"},{"offset":0.210,"color":"red"},{"offset":0.212,"color":"#fff"},
{"offset":0.220,"color":"#fff"},{"offset":0.222,"color":"red"},{"offset":0.224,"color":"#fff"},
{"offset":0.232,"color":"#fff"},{"offset":0.234,"color":"red"},{"offset":0.236,"color":"#fff"},
{"offset":0.244,"color":"#fff"},{"offset":0.246,"color":"red"},{"offset":0.248,"color":"#fff"},
{"offset":0.256,"color":"#fff"},{"offset":0.258,"color":"red"},{"offset":0.260,"color":"#fff"},
{"offset":0.268,"color":"#fff"},{"offset":0.270,"color":"red"},{"offset":0.272,"color":"#fff"},
{"offset":0.280,"color":"#fff"},{"offset":0.282,"color":"red"},{"offset":0.284,"color":"#fff"},
{"offset":0.292,"color":"#fff"},{"offset":0.294,"color":"red"},{"offset":0.296,"color":"#fff"},
{"offset":0.304,"color":"#fff"},{"offset":0.306,"color":"red"},{"offset":0.308,"color":"#fff"},
{"offset":0.316,"color":"#fff"},{"offset":0.318,"color":"red"},{"offset":0.320,"color":"#fff"},
{"offset":0.328,"color":"#fff"},{"offset":0.330,"color":"red"},{"offset":0.332,"color":"#fff"},
{"offset":0.340,"color":"#fff"},{"offset":0.342,"color":"red"},{"offset":0.344,"color":"#fff"},
{"offset":0.352,"color":"#fff"},{"offset":0.354,"color":"red"},{"offset":0.356,"color":"#fff"},
{"offset":0.364,"color":"#fff"},{"offset":0.366,"color":"red"},{"offset":0.368,"color":"#fff"},
{"offset":0.376,"color":"#fff"},{"offset":0.378,"color":"red"},{"offset":0.380,"color":"#fff"},
{"offset":0.388,"color":"#fff"},{"offset":0.390,"color":"red"},{"offset":0.392,"color":"#fff"},
{"offset":0.400,"color":"#fff"},{"offset":0.402,"color":"red"},{"offset":0.404,"color":"#fff"},
{"offset":0.412,"color":"#fff"},{"offset":0.414,"color":"red"},{"offset":0.416,"color":"#fff"},
{"offset":0.424,"color":"#fff"},{"offset":0.426,"color":"red"},{"offset":0.428,"color":"#fff"},
{"offset":0.436,"color":"#fff"},{"offset":0.438,"color":"red"},{"offset":0.440,"color":"#fff"},
{"offset":0.448,"color":"#fff"},{"offset":0.450,"color":"red"},{"offset":0.452,"color":"#fff"},
{"offset":0.460,"color":"#fff"},{"offset":0.462,"color":"red"},{"offset":0.464,"color":"#fff"},
{"offset":0.472,"color":"#fff"},{"offset":0.474,"color":"red"},{"offset":0.476,"color":"#fff"},
{"offset":0.484,"color":"#fff"},{"offset":0.486,"color":"red"},{"offset":0.488,"color":"#fff"},
{"offset":0.496,"color":"#fff"},{"offset":0.498,"color":"red"},{"offset":0.500,"color":"#fff"},
{"offset":0.508,"color":"#fff"},{"offset":0.510,"color":"red"},{"offset":0.512,"color":"#fff"},
{"offset":0.520,"color":"#fff"},{"offset":0.522,"color":"red"},{"offset":0.524,"color":"#fff"},
{"offset":0.532,"color":"#fff"},{"offset":0.534,"color":"red"},{"offset":0.536,"color":"#fff"},
{"offset":0.544,"color":"#fff"},{"offset":0.546,"color":"red"},{"offset":0.548,"color":"#fff"},
{"offset":0.556,"color":"#fff"},{"offset":0.558,"color":"red"},{"offset":0.560,"color":"#fff"},
{"offset":0.568,"color":"#fff"},{"offset":0.570,"color":"red"},{"offset":0.572,"color":"#fff"},
{"offset":0.580,"color":"#fff"},{"offset":0.582,"color":"red"},{"offset":0.584,"color":"#fff"},
{"offset":0.592,"color":"#fff"},{"offset":0.594,"color":"red"},{"offset":0.596,"color":"#fff"},
{"offset":0.604,"color":"#fff"},{"offset":0.606,"color":"red"},{"offset":0.608,"color":"#fff"},
{"offset":0.616,"color":"#fff"},{"offset":0.618,"color":"red"},{"offset":0.620,"color":"#fff"},
{"offset":0.628,"color":"#fff"},{"offset":0.630,"color":"red"},{"offset":0.632,"color":"#fff"},
{"offset":0.640,"color":"#fff"},{"offset":0.642,"color":"red"},{"offset":0.644,"color":"#fff"},
{"offset":0.652,"color":"#fff"},{"offset":0.654,"color":"red"},{"offset":0.656,"color":"#fff"},
{"offset":0.664,"color":"#fff"},{"offset":0.666,"color":"red"},{"offset":0.668,"color":"#fff"},
{"offset":0.676,"color":"#fff"},{"offset":0.678,"color":"red"},{"offset":0.680,"color":"#fff"},
{"offset":0.688,"color":"#fff"},{"offset":0.690,"color":"red"},{"offset":0.692,"color":"#fff"},
{"offset":0.700,"color":"#fff"},{"offset":0.702,"color":"red"},{"offset":0.704,"color":"#fff"},
{"offset":0.712,"color":"#fff"},{"offset":0.714,"color":"red"},{"offset":0.716,"color":"#fff"},
{"offset":0.724,"color":"#fff"},{"offset":0.726,"color":"red"},{"offset":0.728,"color":"#fff"},
{"offset":0.736,"color":"#fff"},{"offset":0.738,"color":"red"},{"offset":0.740,"color":"#fff"},
{"offset":0.748,"color":"#fff"},{"offset":0.750,"color":"red"},{"offset":0.752,"color":"#fff"},
{"offset":0.760,"color":"#fff"},{"offset":0.762,"color":"red"},{"offset":0.764,"color":"#fff"},
{"offset":0.772,"color":"#fff"},{"offset":0.774,"color":"red"},{"offset":0.776,"color":"#fff"},
{"offset":0.784,"color":"#fff"},{"offset":0.786,"color":"red"},{"offset":0.788,"color":"#fff"},
{"offset":0.796,"color":"#fff"},{"offset":0.798,"color":"red"},{"offset":0.800,"color":"#fff"},
{"offset":0.808,"color":"#fff"},{"offset":0.810,"color":"red"},{"offset":0.812,"color":"#fff"},
{"offset":0.820,"color":"#fff"},{"offset":0.822,"color":"red"},{"offset":0.824,"color":"#fff"},
{"offset":0.832,"color":"#fff"},{"offset":0.834,"color":"red"},{"offset":0.836,"color":"#fff"},
{"offset":0.844,"color":"#fff"},{"offset":0.846,"color":"red"},{"offset":0.848,"color":"#fff"},
{"offset":0.856,"color":"#fff"},{"offset":0.858,"color":"red"},{"offset":0.860,"color":"#fff"},
{"offset":0.868,"color":"#fff"},{"offset":0.870,"color":"red"},{"offset":0.872,"color":"#fff"},
{"offset":0.880,"color":"#fff"},{"offset":0.882,"color":"red"},{"offset":0.884,"color":"#fff"},
{"offset":0.892,"color":"#fff"},{"offset":0.894,"color":"red"},{"offset":0.896,"color":"#fff"},
{"offset":0.904,"color":"#fff"},{"offset":0.906,"color":"red"},{"offset":0.908,"color":"#fff"},
{"offset":0.916,"color":"#fff"},{"offset":0.918,"color":"red"},{"offset":0.920,"color":"#fff"},
{"offset":0.928,"color":"#fff"},{"offset":0.930,"color":"red"},{"offset":0.932,"color":"#fff"},
{"offset":0.940,"color":"#fff"},{"offset":0.942,"color":"red"},{"offset":0.944,"color":"#fff"},
{"offset":0.952,"color":"#fff"},{"offset":0.954,"color":"red"},{"offset":0.956,"color":"#fff"},
{"offset":0.964,"color":"#fff"},{"offset":0.966,"color":"red"},{"offset":0.968,"color":"#fff"},
{"offset":0.976,"color":"#fff"},{"offset":0.978,"color":"red"},{"offset":0.980,"color":"#fff"},
{"offset":0.988,"color":"#fff"},{"offset":0.990,"color":"red"},{"offset":0.992,"color":"#fff"}]}},
   "encoding":{
    "x":{"field":"x","type":"quantitative","scale":{"type":"log","domain":[8,100],"nice":false},"axis":{"orient":"bottom","zindex":1,"values":[10,100],"labelExpr":"datum.value >= 100 ? '10²' : '10'","ticks":true,"tickSize":0,"tickOpacity":0,"domain":false,"labelPadding":14,"title":"Counts","titlePadding":-3}},
    "y":{"field":"sub","type":"quantitative","stack":null,"scale":{"type":"log","domain":[0.5,100],"nice":false,"clamp":true},"axis":{"orient":"left","zindex":1,"values":[1,10,100],"labelExpr":"datum.value >= 100 ? '10²' : (datum.value >= 10 ? '10' : '1')","ticks":true,"tickSize":0,"tickOpacity":0,"domain":false,"labelPadding":5,"title":"Number of TGFs","titlePadding":10}},
    "y2":{"datum":0.5},
    "order":[{"field":"x","type":"quantitative"},{"field":"edge","type":"ordinal"}]}},
  {"transform":[{"fold":["lo","hi"],"as":["edge","x"]}],
   "mark":{"type":"line","color":"#000099","strokeWidth":1.5},
   "encoding":{
    "x":{"field":"x","type":"quantitative","scale":{"type":"log","domain":[8,100],"nice":false},"axis":{"orient":"bottom","zindex":1,"values":[10,100],"offset":-10,"tickSize":10,"labels":false,"domain":false,"title":null}},
    "y":{"field":"sub","type":"quantitative","scale":{"type":"log","domain":[0.5,100],"nice":false,"clamp":true},"axis":{"orient":"left","zindex":1,"values":[1,10,100],"offset":-14,"tickSize":14,"labels":false,"domain":false,"title":null}},
    "order":[{"field":"x","type":"quantitative"},{"field":"edge","type":"ordinal"}]}},
  {"transform":[{"fold":["lo","hi"],"as":["edge","x"]}],
   "mark":{"type":"line","color":"#000099","strokeWidth":4},
   "encoding":{
    "x":{"field":"x","type":"quantitative","scale":{"type":"log","domain":[8,100],"nice":false},"axis":{"orient":"top","zindex":1,"values":[10,100],"offset":-10,"tickSize":10,"labels":false,"domain":false,"title":null}},
    "y":{"field":"all","type":"quantitative","scale":{"type":"log","domain":[0.5,100],"nice":false,"clamp":true},"axis":{"orient":"right","zindex":1,"values":[1,10,100],"offset":-13,"tickSize":13,"labels":false,"domain":false,"title":null}},
    "order":[{"field":"x","type":"quantitative"},{"field":"edge","type":"ordinal"}]}},
  {"mark":{"type":"line","strokeOpacity":0},
   "encoding":{
    "x":{"field":"lo","type":"quantitative","scale":{"type":"log","domain":[8,100],"nice":false},"axis":{"orient":"bottom","zindex":1,"values":[9,20,30,40,50,60,70,80,90],"offset":-5,"tickSize":5,"labels":false,"domain":false,"title":null}},
    "y":{"field":"all","type":"quantitative","scale":{"type":"log","domain":[0.5,100],"nice":false,"clamp":true},"axis":{"orient":"left","zindex":1,"values":[0.6,0.7,0.8,0.9,2,3,4,5,6,7,8,9,20,30,40,50,60,70,80,90],"offset":-7,"tickSize":7,"labels":false,"domain":false,"title":null}}}},
  {"data":{"values":[{}]},
   "mark":{"type":"text","text":"(d)","font":"Liberation Sans","fontSize":25,"fontWeight":"bold","color":"#000"},
   "encoding":{
    "x":{"datum":10.26,"type":"quantitative","scale":{"type":"log","domain":[8,100],"nice":false},"axis":{"orient":"top","zindex":1,"values":[9,20,30,40,50,60,70,80,90],"offset":-5,"tickSize":5,"labels":false,"domain":false,"title":null}},
    "y":{"datum":1.09,"type":"quantitative","scale":{"type":"log","domain":[0.5,100],"nice":false,"clamp":true},"axis":{"orient":"right","zindex":1,"values":[0.6,0.7,0.8,0.9,2,3,4,5,6,7,8,9,20,30,40,50,60,70,80,90],"offset":-7,"tickSize":7,"labels":false,"domain":false,"title":null}}}}
 ],
 "resolve":{"axis":{"x":"independent","y":"independent"}}
}
]
}
